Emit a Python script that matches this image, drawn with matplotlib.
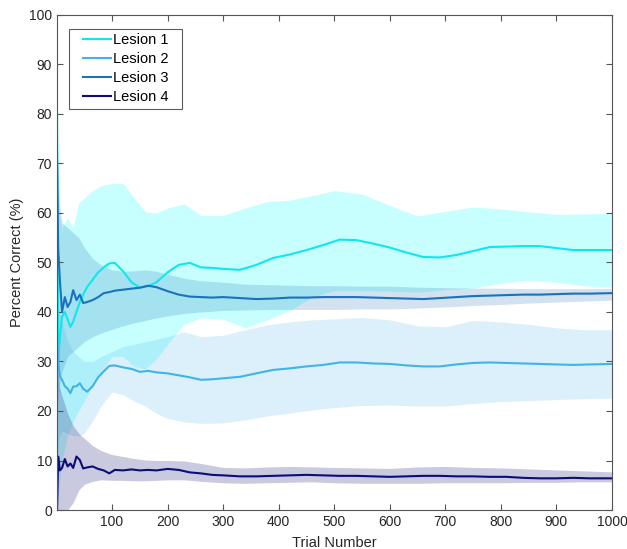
import matplotlib
matplotlib.use('Agg')
import matplotlib.pyplot as plt
from matplotlib.path import Path
import numpy as np

plt.rcParams['font.family'] = ['Liberation Sans', 'DejaVu Sans']

# trial grid for the mean curves
trials = [1, 3, 6, 10, 15, 20, 25, 30, 36, 42,
          48, 55, 65, 75, 85, 95, 105, 120, 135, 150,
          165, 180, 200, 220, 240, 260, 280, 300, 330, 360,
          390, 420, 450, 480, 510, 540, 570, 600, 630, 660,
          690, 720, 750, 780, 810, 840, 870, 900, 930, 960, 1000]

lesion1 = [80, 30, 35, 39, 40, 38.5, 37, 38, 40, 42,
           43.5, 45, 46.5, 48, 49, 49.8, 49.9, 48.2, 46, 44.9,
           45.2, 46, 48, 49.5, 49.9, 49.0, 48.9, 48.7, 48.5, 49.5,
           50.9, 51.6, 52.5, 53.5, 54.6, 54.5, 53.8, 53.0, 52.0, 51.1,
           51.0, 51.5, 52.3, 53.1, 53.2, 53.3, 53.3, 52.9, 52.5, 52.5, 52.5]
lesion2 = [35, 30, 27, 26.3, 25, 24.5, 23.6, 24.9, 25, 25.6,
           24.5, 23.9, 25, 26.8, 28, 29.1, 29.2, 28.8, 28.5, 27.9,
           28.1, 27.8, 27.6, 27.2, 26.8, 26.3, 26.4, 26.6, 26.9, 27.6,
           28.3, 28.6, 29.0, 29.3, 29.8, 29.8, 29.6, 29.5, 29.2, 29.0,
           29.0, 29.4, 29.7, 29.8, 29.7, 29.6, 29.5, 29.4, 29.3, 29.4, 29.5]
lesion3 = [70, 53, 46.5, 40, 43, 41, 42, 44.4, 42.4, 43.5,
           41.8, 42, 42.4, 43, 43.8, 44, 44.3, 44.5, 44.7, 44.9,
           45.3, 45.0, 44.2, 43.5, 43.1, 43.0, 42.9, 43.0, 42.8, 42.6,
           42.7, 42.9, 42.9, 43.0, 43.0, 43.0, 42.9, 42.8, 42.7, 42.6,
           42.8, 43.0, 43.2, 43.3, 43.4, 43.5, 43.5, 43.6, 43.7, 43.7, 43.8]
lesion4 = [0, 10.8, 8, 8.5, 10.3, 8.8, 9.4, 8.5, 10.8, 10.1,
           8.4, 8.6, 8.8, 8.3, 8.0, 7.4, 8.1, 8.0, 8.2, 8.0,
           8.1, 8.0, 8.3, 8.1, 7.6, 7.4, 7.1, 7.0, 6.8, 6.8,
           6.9, 7.0, 7.1, 7.0, 6.9, 6.9, 6.8, 6.7, 6.8, 6.9,
           6.9, 6.8, 6.8, 6.7, 6.7, 6.5, 6.4, 6.4, 6.5, 6.4, 6.4]

# trial grid for the confidence bands
band_trials = [1, 5, 10, 20, 30, 40, 50, 65, 80, 100,
               120, 140, 160, 180, 200, 230, 260, 300, 340, 380,
               420, 460, 500, 550, 600, 650, 700, 750, 800, 850,
               900, 950, 1000]

lesion1_hi = [80, 60, 57, 59, 57, 62, 63, 64.5, 65.5, 66,
              66, 63, 60.2, 60, 61, 61.8, 59.5, 59.5, 61, 62.3,
              62.6, 63.5, 64.5, 63.8, 61.5, 59.4, 60.3, 61.2, 60.8, 60.2,
              59.7, 59.8, 59.9]
lesion1_lo = [0, 5, 10, 15, 18, 20, 22, 25, 28, 31,
              31, 29, 28.5, 30.5, 33.5, 37.5, 38.8, 38.5, 36.8, 38.4,
              40.3, 43, 44.3, 44.3, 44.2, 44, 44.5, 44.8, 45.8, 46.4,
              46.0, 45.3, 45.0]
lesion2_hi = [45, 40, 38, 34, 32, 31, 30, 30, 31, 32,
              33, 33.5, 34, 34.5, 35, 36, 35, 35.3, 36.4, 37.4,
              38, 38.4, 38.6, 38.9, 38.4, 37.2, 37.0, 38.3, 38.0, 37.5,
              36.8, 36.4, 36.4]
lesion2_lo = [10, 15, 16, 15.5, 15, 15, 15.5, 18, 21, 23.8,
              23.3, 22, 21, 19.5, 18.5, 17.8, 17.5, 17.6, 18.2, 19,
              19.6, 20.2, 20.7, 21.1, 21.2, 21.0, 21.0, 21.5, 21.9, 22.1,
              22.3, 22.5, 22.6]
lesion3_hi = [75, 62, 58, 57, 56, 55, 53, 50.8, 49.5, 48.5,
              48.2, 48.3, 48.5, 48.2, 47.6, 46.8, 46.3, 46, 45.6, 45.5,
              45.4, 45.3, 45.3, 45.2, 45.2, 45.0, 44.9, 44.8, 44.8, 44.7,
              44.7, 44.7, 44.7]
lesion3_lo = [20, 25, 28, 31, 32, 33, 34, 35, 35.7, 36.5,
              37.2, 37.8, 38.3, 38.8, 39.2, 39.7, 40, 40.3, 40.4, 40.5,
              40.5, 40.5, 40.5, 40.6, 40.6, 40.8, 41.0, 41.3, 41.5, 41.8,
              42.0, 42.2, 42.4]
lesion4_hi = [30, 25, 23, 19.5, 17, 15.5, 14.5, 13, 12, 11.2,
              10.8, 10.4, 10.1, 10, 10, 9.9, 9.4, 8.6, 8.5, 8.7,
              8.8, 8.7, 8.6, 8.5, 8.4, 8.7, 8.8, 8.6, 8.5, 8.3,
              8.1, 7.9, 7.7]
lesion4_lo = [0, 0, 0, 0, 1.5, 4, 5.2, 5.8, 6.1, 6.0,
              6.0, 5.9, 5.9, 6.0, 6.1, 6.1, 5.8, 5.5, 5.4, 5.5,
              5.6, 5.7, 5.5, 5.4, 5.4, 5.4, 5.5, 5.5, 5.5, 5.6,
              5.6, 5.7, 5.7]

labels = ['Lesion 1', 'Lesion 2', 'Lesion 3', 'Lesion 4']
line_colors = ['#10E6EE', '#3FB4E6', '#1A72BE', '#0C0C7A']
fill_colors = ['#00FFFF', '#4DB8E8', '#1E6EB4', '#282882']
fill_alpha = [0.22, 0.2, 0.2, 0.25]

means = [lesion1, lesion2, lesion3, lesion4]
his = [lesion1_hi, lesion2_hi, lesion3_hi, lesion4_hi]
los = [lesion1_lo, lesion2_lo, lesion3_lo, lesion4_lo]


def wide_box(x0, y0, width, height, mutation_size):
    # square legend frame with extra room left and right only
    px = 0.65 * mutation_size
    x0, x1 = x0 - px, x0 + width + px
    y1 = y0 + height
    return Path([(x0, y0), (x1, y0), (x1, y1), (x0, y1), (x0, y0)], closed=True)


fig = plt.figure(figsize=(6.27, 5.49), dpi=100)
ax = fig.add_axes([0.091, 0.071, 0.885, 0.902])

for i in range(4):
    ax.fill_between(band_trials, los[i], his[i], color=fill_colors[i],
                    alpha=fill_alpha[i], linewidth=0)
for i in range(4):
    ax.plot(trials, means[i], color=line_colors[i], lw=1.5, label=labels[i])

ax.set_xlim(1, 1000)
ax.set_ylim(0, 100)
ax.set_xticks(np.arange(100, 1001, 100))
ax.set_yticks(np.arange(0, 101, 10))
ax.tick_params(direction='in', top=True, right=True, length=4,
               color='#555555', labelcolor='#262626', labelsize=10)
for s in ax.spines.values():
    s.set_color('#555555')
    s.set_linewidth(0.8)
ax.set_xlabel('Trial Number', fontsize=10.5, color='#262626', labelpad=5)
ax.set_ylabel('Percent Correct (%)', fontsize=10.5, color='#262626', labelpad=4)

leg = ax.legend(loc='upper left', bbox_to_anchor=(0.039, 0.972), fontsize=10.5,
                frameon=True, fancybox=False, handlelength=1.9,
                handletextpad=0.15, labelspacing=0.35, borderpad=0.3,
                borderaxespad=0)
leg.get_frame().set_boxstyle(wide_box)
leg.get_frame().set_edgecolor('#333333')
leg.get_frame().set_linewidth(0.8)

fig.savefig('out.png', dpi=100)
